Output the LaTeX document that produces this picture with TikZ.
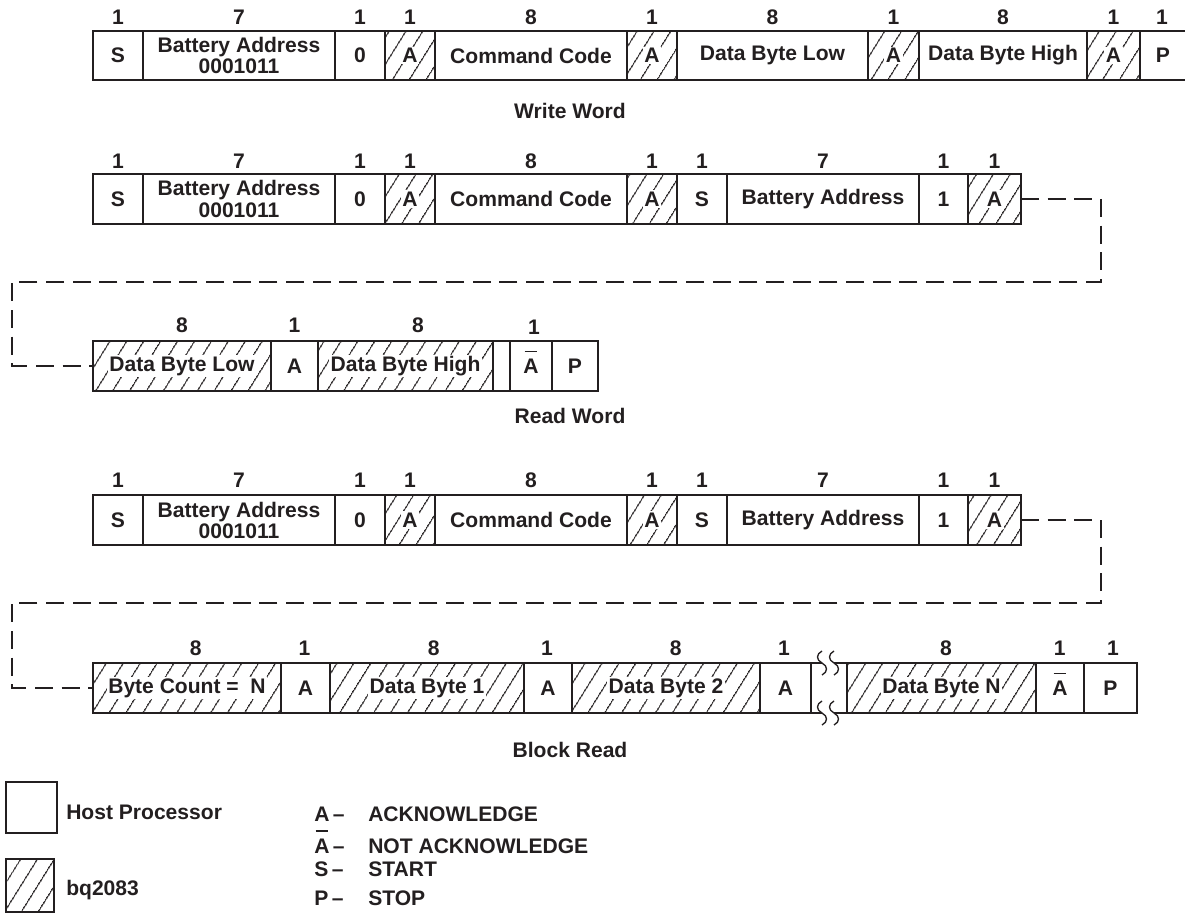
\documentclass[tikz,border=0pt]{standalone}
\usepackage{fontspec}
\setmainfont{Liberation Sans}
\usetikzlibrary{patterns.meta}
\definecolor{ink}{RGB}{35,31,32}
\newcommand{\nack}{\ooalign{A\cr\hidewidth\smash{\rule[1.0em]{0.6em}{0.075em}}\hidewidth\cr}}
\newcommand{\mkcell}[7]{%
  \node[cell,#6,anchor=north west,minimum width={(#3-#2)*0.75pt},minimum height={(#5-#4)*0.75pt}] (#1) at (#2,#4) {};
  \node[lab] (#1t) at (#1.center) {#7};}
\newcommand{\bitn}[4]{\node[bitnum] (#1) at (#2,#3) {#4};}
\tikzset{
  txt/.style={font=\fontsize{15.8}{15.8}\selectfont\bfseries, text=ink, inner sep=0pt},
  lab/.style={txt, fill=white, inner sep=1.2pt, align=center},
  cell/.style={draw=ink, line width=1.5pt, inner sep=0pt, outer sep=0pt},
  hatched/.style={pattern={Lines[angle=58,distance=10.5pt,line width=0.95pt]}, pattern color=ink},
  plain/.style={fill=white},
  conn/.style={draw=ink, line width=1pt, dash pattern=on 13.5pt off 6.5pt},
  brk/.style={draw=ink, line width=1pt},
  bitnum/.style={txt},
}
\begin{document}
\begin{tikzpicture}[x=0.75pt,y=-0.75pt]
\useasboundingbox (0,0) rectangle (1185,920);
% ---------------- Row 1: Write Word
\mkcell{r1s}{93}{143}{31}{80}{plain}{S}
\mkcell{r1ba}{143}{335}{31}{80}{plain}{Battery Address\\0001011}
\mkcell{r1z}{335}{385}{31}{80}{plain}{0}
\mkcell{r1a1}{385}{435}{31}{80}{hatched}{A}
\mkcell{r1cc}{435}{627}{31}{80}{plain}{Command Code}
\mkcell{r1a2}{627}{677}{31}{80}{hatched}{A}
\mkcell{r1dl}{677}{868}{31}{80}{plain}{Data Byte Low}
\mkcell{r1a3}{868}{919}{31}{80}{hatched}{A}
\mkcell{r1dh}{919}{1087}{31}{80}{plain}{Data Byte High}
\mkcell{r1a4}{1087}{1140}{31}{80}{hatched}{A}
\mkcell{r1p}{1140}{1186}{31}{80}{plain}{P}
\bitn{n11}{118}{17}{1}
\bitn{n12}{239}{17}{7}
\bitn{n13}{360}{17}{1}
\bitn{n14}{410}{17}{1}
\bitn{n15}{531}{17}{8}
\bitn{n16}{652}{17}{1}
\bitn{n17}{772.5}{17}{8}
\bitn{n18}{893.5}{17}{1}
\bitn{n19}{1003}{17}{8}
\bitn{n110}{1113.5}{17}{1}
\bitn{n111}{1162}{17}{1}
\node[txt] (tww) at (570,111) {Write Word};
% ---------------- Row 2: Read Word (part 1)
\mkcell{r2s}{93}{143}{174}{224}{plain}{S}
\mkcell{r2ba}{143}{335}{174}{224}{plain}{Battery Address\\0001011}
\mkcell{r2z}{335}{385}{174}{224}{plain}{0}
\mkcell{r2a1}{385}{435}{174}{224}{hatched}{A}
\mkcell{r2cc}{435}{627}{174}{224}{plain}{Command Code}
\mkcell{r2a2}{627}{677}{174}{224}{hatched}{A}
\mkcell{r2s2}{677}{727}{174}{224}{plain}{S}
\mkcell{r2ba2}{727}{919}{174}{224}{plain}{Battery Address}
\mkcell{r2one}{919}{968}{174}{224}{plain}{1}
\mkcell{r2a3}{968}{1021}{174}{224}{hatched}{A}
\bitn{n21}{118}{161}{1}
\bitn{n22}{239}{161}{7}
\bitn{n23}{360}{161}{1}
\bitn{n24}{410}{161}{1}
\bitn{n25}{531}{161}{8}
\bitn{n26}{652}{161}{1}
\bitn{n27}{702}{161}{1}
\bitn{n28}{823}{161}{7}
\bitn{n29}{943.5}{161}{1}
\bitn{n210}{994.5}{161}{1}
% ---------------- Row 3: Read Word (part 2)
\mkcell{r3dl}{93}{271}{341}{391}{hatched}{Data Byte Low}
\mkcell{r3a}{271}{318}{341}{391}{plain}{A}
\mkcell{r3dh}{318}{493}{341}{391}{hatched}{Data Byte High}
\mkcell{r3e}{493}{510}{341}{391}{plain}{}
\mkcell{r3n}{510}{552}{341}{391}{plain}{\nack}
\mkcell{r3p}{552}{598}{341}{391}{plain}{P}
\bitn{n31}{182}{325}{8}
\bitn{n32}{294.5}{325}{1}
\bitn{n33}{418}{325}{8}
\bitn{n34}{534}{327}{1}
\coordinate (k1) at (1101,282);
\coordinate (k2) at (12,366);
\draw[conn] (r2a3.east) -| (k1) -| (k2) -- (r3dl.west);
\node[txt] (trw) at (570,416) {Read Word};
% ---------------- Row 4: Block Read (part 1)
\mkcell{r4s}{93}{143}{495}{545}{plain}{S}
\mkcell{r4ba}{143}{335}{495}{545}{plain}{Battery Address\\0001011}
\mkcell{r4z}{335}{385}{495}{545}{plain}{0}
\mkcell{r4a1}{385}{435}{495}{545}{hatched}{A}
\mkcell{r4cc}{435}{627}{495}{545}{plain}{Command Code}
\mkcell{r4a2}{627}{677}{495}{545}{hatched}{A}
\mkcell{r4s2}{677}{727}{495}{545}{plain}{S}
\mkcell{r4ba2}{727}{919}{495}{545}{plain}{Battery Address}
\mkcell{r4one}{919}{968}{495}{545}{plain}{1}
\mkcell{r4a3}{968}{1021}{495}{545}{hatched}{A}
\bitn{n41}{118}{480}{1}
\bitn{n42}{239}{480}{7}
\bitn{n43}{360}{480}{1}
\bitn{n44}{410}{480}{1}
\bitn{n45}{531}{480}{8}
\bitn{n46}{652}{480}{1}
\bitn{n47}{702}{480}{1}
\bitn{n48}{823}{480}{7}
\bitn{n49}{943.5}{480}{1}
\bitn{n410}{994.5}{480}{1}
% ---------------- Row 5: Block Read (part 2)
\mkcell{r5bc}{93}{281}{663}{713}{hatched}{Byte Count = \ N}
\mkcell{r5a1}{281}{330}{663}{713}{plain}{A}
\mkcell{r5d1}{330}{524}{663}{713}{hatched}{Data Byte 1}
\mkcell{r5a2}{524}{572}{663}{713}{plain}{A}
\mkcell{r5d2}{572}{760}{663}{713}{hatched}{Data Byte 2}
\mkcell{r5a3}{760}{811}{663}{713}{plain}{A}
\mkcell{r5dn}{847}{1036}{663}{713}{hatched}{Data Byte N}
\mkcell{r5n}{1036}{1084}{663}{713}{plain}{\nack}
\mkcell{r5p}{1084}{1137}{663}{713}{plain}{P}
\coordinate (g1) at (822,663);
\coordinate (g2) at (834,663);
\coordinate (g3) at (822,713);
\coordinate (g4) at (834,713);
\draw[cell] (r5a3.north east) -- (g1);
\draw[cell] (g2) -- (r5dn.north west);
\draw[cell] (r5a3.south east) -- (g3);
\draw[cell] (g4) -- (r5dn.south west);
\foreach \gx in {822,834}{
  \foreach \gy in {663,713}{
    \draw[brk] (\gx,\gy-12) .. controls (\gx-6,\gy-9) and (\gx-6,\gy-3) .. (\gx,\gy)
               .. controls (\gx+6,\gy+3) and (\gx+6,\gy+9) .. (\gx,\gy+12);
  }
}
\bitn{n51}{195.7}{648}{8}
\bitn{n52}{304.5}{648}{1}
\bitn{n53}{433.8}{648}{8}
\bitn{n54}{546.9}{648}{1}
\bitn{n55}{675.7}{648}{8}
\bitn{n56}{784}{648}{1}
\bitn{n57}{946}{648}{8}
\bitn{n58}{1059.7}{648}{1}
\bitn{n59}{1113}{648}{1}
\coordinate (k3) at (1101,603);
\coordinate (k4) at (12,688);
\draw[conn] (r4a3.east) -| (k3) -| (k4) -- (r5bc.west);
\node[txt] (tbr) at (570,750) {Block Read};
% ---------------- Legend
\node[cell,plain,anchor=north west,minimum width={51*0.75pt},minimum height={51*0.75pt}] (lhost) at (6,782) {};
\node[cell,hatched,anchor=north west,minimum width={48*0.75pt},minimum height={53*0.75pt}] (lbq) at (6,859) {};
\node[txt,anchor=base west] (lhostt) at (66,819) {Host Processor};
\node[txt,anchor=base west] (lbqt) at (66,895) {bq2083};
\node[txt,anchor=base west] (ka) at (314,821) {A\,–};
\node[txt,anchor=base west] (kn) at (314,853) {\nack\,–};
\node[txt,anchor=base west] (ks) at (314,876) {S\,–};
\node[txt,anchor=base west] (kp) at (314,905) {P\,–};
\node[txt,anchor=base west] (kat) at (368,821) {ACKNOWLEDGE};
\node[txt,anchor=base west] (knt) at (368,853) {NOT ACKNOWLEDGE};
\node[txt,anchor=base west] (kst) at (368,876) {START};
\node[txt,anchor=base west] (kpt) at (368,905) {STOP};
\end{tikzpicture}
\end{document}
